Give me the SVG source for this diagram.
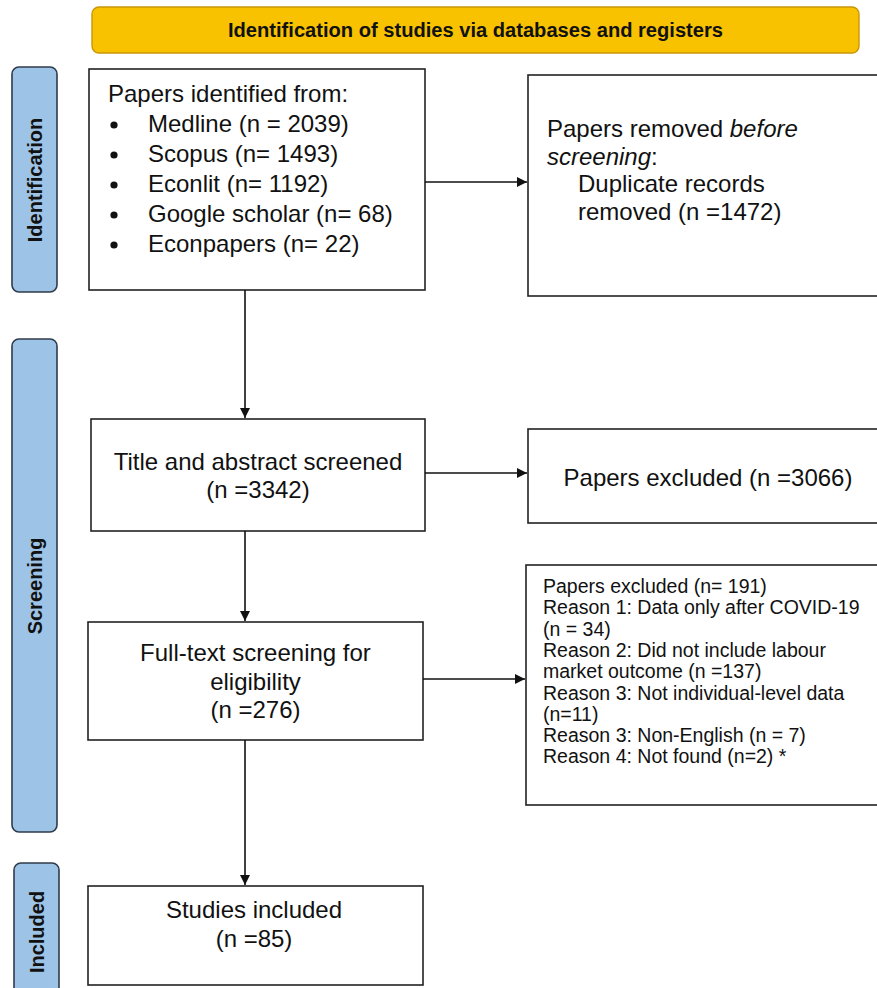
<svg xmlns="http://www.w3.org/2000/svg" width="877" height="988" viewBox="0 0 877 988">
<defs>
<marker id="ah" viewBox="0 0 10 10" refX="10" refY="5" markerWidth="10" markerHeight="10" markerUnits="userSpaceOnUse" orient="auto">
<path d="M0,0 L10,5 L0,10 z" fill="#111"/>
</marker>
<style>
.box{fill:#fff;stroke:#222;stroke-width:1.6}
.lab{fill:#9dc3e6;stroke:#2f3b4a;stroke-width:1.6}
.hdr{fill:#f8c200;stroke:#c9960a;stroke-width:1.4}
.t{font-family:"Liberation Sans",Arial,sans-serif;font-size:24px;fill:#111}
.s{font-family:"Liberation Sans",Arial,sans-serif;font-size:19.5px;fill:#111}
.b{font-family:"Liberation Sans",Arial,sans-serif;font-weight:bold;font-size:20px;fill:#111}
.c{stroke:#111;stroke-width:1.6;fill:none;marker-end:url(#ah)}
</style>
</defs>
<rect width="877" height="988" fill="#fff"/>
<g id="header">
<rect class="hdr" x="92" y="7" width="767" height="46" rx="7"/>
<text class="b" x="475.5" y="37" text-anchor="middle" font-size="20.5" textLength="495" lengthAdjust="spacingAndGlyphs">Identification of studies via databases and registers</text>
</g>
<g id="label-identification">
<rect class="lab" x="12" y="67" width="45" height="225" rx="7"/>
<text class="b" transform="translate(35,180) rotate(-90)" text-anchor="middle" dominant-baseline="central">Identification</text>
</g>
<g id="label-screening">
<rect class="lab" x="12" y="339" width="45" height="493" rx="7"/>
<text class="b" transform="translate(35,586) rotate(-90)" text-anchor="middle" dominant-baseline="central">Screening</text>
</g>
<g id="label-included">
<rect class="lab" x="14" y="863" width="45" height="140" rx="7"/>
<text class="b" transform="translate(37,932) rotate(-90)" text-anchor="middle" dominant-baseline="central">Included</text>
</g>
<g id="identified">
<rect class="box" x="89" y="69" width="336" height="221"/>
<text class="t" x="108" y="102">Papers identified from:</text>
<g fill="#111">
<circle cx="114" cy="125" r="3.6"/>
<circle cx="114" cy="155" r="3.6"/>
<circle cx="114" cy="185" r="3.6"/>
<circle cx="114" cy="215" r="3.6"/>
<circle cx="114" cy="245" r="3.6"/>
</g>
<text class="t" x="148" y="132">Medline (n = 2039)</text>
<text class="t" x="148" y="162">Scopus (n= 1493)</text>
<text class="t" x="148" y="192">Econlit (n= 1192)</text>
<text class="t" x="148" y="222">Google scholar (n= 68)</text>
<text class="t" x="148" y="252">Econpapers (n= 22)</text>
</g>
<g id="removed">
<rect class="box" x="528" y="75" width="360" height="221"/>
<text class="t" x="547" y="137">Papers removed <tspan font-style="italic">before</tspan></text>
<text class="t" x="547" y="165"><tspan font-style="italic">screening</tspan>:</text>
<text class="t" x="578" y="192">Duplicate records</text>
<text class="t" x="578" y="220">removed (n =1472)</text>
</g>
<g id="screened">
<rect class="box" x="91" y="419" width="334" height="112"/>
<text class="t" x="258" y="470" text-anchor="middle">Title and abstract screened</text>
<text class="t" x="258" y="498" text-anchor="middle">(n =3342)</text>
</g>
<g id="excluded1">
<rect class="box" x="528" y="429" width="360" height="94"/>
<text class="t" x="708" y="486" text-anchor="middle">Papers excluded (n =3066)</text>
</g>
<g id="fulltext">
<rect class="box" x="88" y="622" width="335" height="118"/>
<text class="t" x="255.5" y="661" text-anchor="middle">Full-text screening for</text>
<text class="t" x="255.5" y="690" text-anchor="middle">eligibility</text>
<text class="t" x="255.5" y="718" text-anchor="middle">(n =276)</text>
</g>
<g id="excluded2">
<rect class="box" x="526" y="565" width="362" height="240"/>
<text class="s" x="543" y="593">Papers excluded (n= 191)</text>
<text class="s" x="543" y="614.3">Reason 1: Data only after COVID-19</text>
<text class="s" x="543" y="635.6">(n = 34)</text>
<text class="s" x="543" y="656.9">Reason 2: Did not include labour</text>
<text class="s" x="543" y="678.2">market outcome (n =137)</text>
<text class="s" x="543" y="699.5">Reason 3: Not individual-level data</text>
<text class="s" x="543" y="720.8">(n=11)</text>
<text class="s" x="543" y="742.1">Reason 3: Non-English (n = 7)</text>
<text class="s" x="543" y="763.4">Reason 4: Not found (n=2) *</text>
</g>
<g id="included">
<rect class="box" x="88" y="886" width="335" height="99"/>
<text class="t" x="254" y="918" text-anchor="middle">Studies included</text>
<text class="t" x="254" y="947" text-anchor="middle">(n =85)</text>
</g>
<g id="connectors">
<line class="c" x1="425" y1="182" x2="527" y2="182"/>
<line class="c" x1="245" y1="290" x2="245" y2="418"/>
<line class="c" x1="425" y1="473" x2="527" y2="473"/>
<line class="c" x1="245" y1="531" x2="245" y2="621"/>
<line class="c" x1="423" y1="679" x2="525" y2="679"/>
<line class="c" x1="245" y1="740" x2="245" y2="885"/>
</g>
</svg>
